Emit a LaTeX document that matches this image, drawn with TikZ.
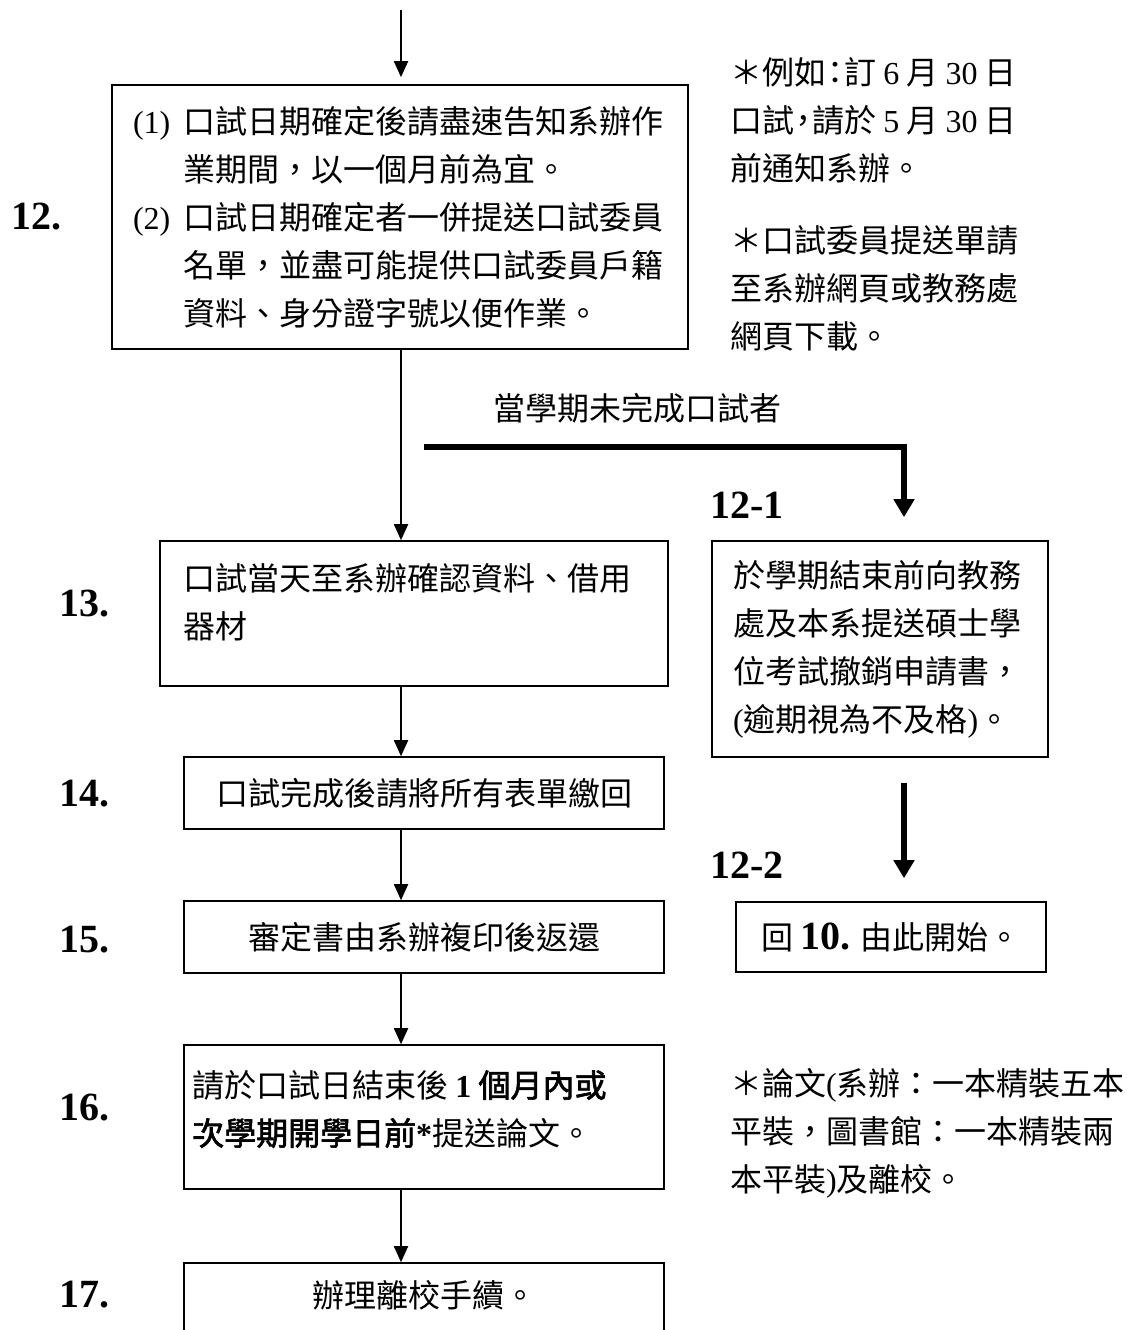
\documentclass[tikz,border=0pt]{standalone}
\usepackage{fontspec}
\setmainfont{Liberation Serif}
\newfontfamily\cjk{Noto Sans CJK TC}
\newfontfamily\cjkb{Noto Sans CJK TC}[FakeBold=2]
\usetikzlibrary{arrows.meta}
\newcommand\lat[1]{{\rmfamily #1}}
\newcommand\latb[1]{{\rmfamily\bfseries #1}}
\newcommand\hpunct[1]{\makebox[18pt][c]{#1}}
\begin{document}
\begin{tikzpicture}[x=1pt,y=-1pt,
  every node/.style={font=\cjk\fontsize{32}{48}\selectfont, inner sep=0pt},
  box/.style={draw, line width=1.6pt, inner sep=0pt},
  txt/.style={align=left},
  num/.style={font=\rmfamily\bfseries\fontsize{40}{40}\selectfont},
  arr/.style={line width=1.8pt, -{Triangle[width=14pt,length=16pt]}},
  thk/.style={line width=6pt, -{Triangle[width=20pt,length=18pt]}}]
\useasboundingbox (0,0) rectangle (1139,1330);

% column coordinates
\coordinate (c) at (401,0);
\coordinate (rc) at (904,0);
\coordinate (s0) at (401,10);
\coordinate (br) at (424,447);

% boxes
\node[box, minimum width=576pt, minimum height=264pt, text width=534pt, align=left] (b12) at (400,217)
{\makebox[50pt][l]{\lat{(1)}}口試日期確定後請盡速告知系辦作\\
 \hspace*{50pt}業期間，以一個月前為宜。\\
 \makebox[50pt][l]{\lat{(2)}}口試日期確定者一併提送口試委員\\
 \hspace*{50pt}名單，並盡可能提供口試委員戶籍\\
 \hspace*{50pt}資料、身分證字號以便作業。};

\node[box, minimum width=508pt, minimum height=145pt] (b13) at (414,613.5) {};
\node[txt, anchor=west] (t13) at (183,602) {口試當天至系辦確認資料、借用\\器材};

\node[box, minimum width=480pt, minimum height=72pt] (b14) at (424,793) {口試完成後請將所有表單繳回};
\node[box, minimum width=480pt, minimum height=72pt] (b15) at (424,937) {審定書由系辦複印後返還};

\node[box, minimum width=480pt, minimum height=144pt] (b16) at (424,1117) {};
\node[txt, anchor=west] (t16) at (192,1109)
{請於口試日結束後 \latb{1} {\cjkb 個月內或}\\{\cjkb 次學期開學日前}\latb{*}提送論文。};

\node[box, minimum width=480pt, minimum height=82pt] (b17) at (424,1304) {};
\node (t17) at (424,1295) {辦理離校手續。};

\node[box, minimum width=336pt, minimum height=216pt, text width=294pt, align=left] (b121) at (880,649)
{於學期結束前向教務\\處及本系提送碩士學\\位考試撤銷申請書，\\\lat{(}逾期視為不及格\lat{)}。};

\node[box, minimum width=310pt, minimum height=70pt] (b122) at (891,937)
{回 \latb{\fontsize{40}{40}\selectfont 10.} 由此開始。};

% step numbers
\node[num] (l12) at (37,217) {12.};
\node[num] (l13) at (84,604) {13.};
\node[num] (l14) at (84,794) {14.};
\node[num] (l15) at (84,940) {15.};
\node[num] (l16) at (84,1108) {16.};
\node[num] (l17) at (84,1295) {17.};
\node[num, anchor=base west] (l121) at (710,518) {12-1};
\node[num, anchor=base west] (l122) at (710,878) {12-2};

% notes
\node[txt, anchor=west] (n1) at (730,120) {＊例如\hpunct{：}訂 \lat{6} 月 \lat{30} 日\\口試\hpunct{，}請於 \lat{5} 月 \lat{30} 日\\前通知系辦。};
\node[txt, anchor=west] (n2) at (730,288) {＊口試委員提送單請\\至系辦網頁或教務處\\網頁下載。};
\node[txt, anchor=west] (n3) at (730,1133) {＊論文\lat{(}系辦：一本精裝五本\\平裝，圖書館：一本精裝兩\\本平裝\lat{)}及離校。};
\node (lb) at (637,408) {當學期未完成口試者};

% connectors
\draw[arr, shorten >=7pt] (s0) -- (b12.north -| s0);
\draw[arr] (b12.south -| c) -- (b13.north -| c);
\draw[arr] (b13.south -| c) -- (b14.north -| c);
\draw[arr] (b14.south -| c) -- (b15.north -| c);
\draw[arr] (b15.south -| c) -- (b16.north -| c);
\draw[arr] (b16.south -| c) -- (b17.north -| c);
\draw[thk, shorten >=23pt] (br) -| (b121.north -| rc);
\draw[thk, shorten <=25pt, shorten >=23pt] (b121.south -| rc) -- (b122.north -| rc);
\end{tikzpicture}
\end{document}
